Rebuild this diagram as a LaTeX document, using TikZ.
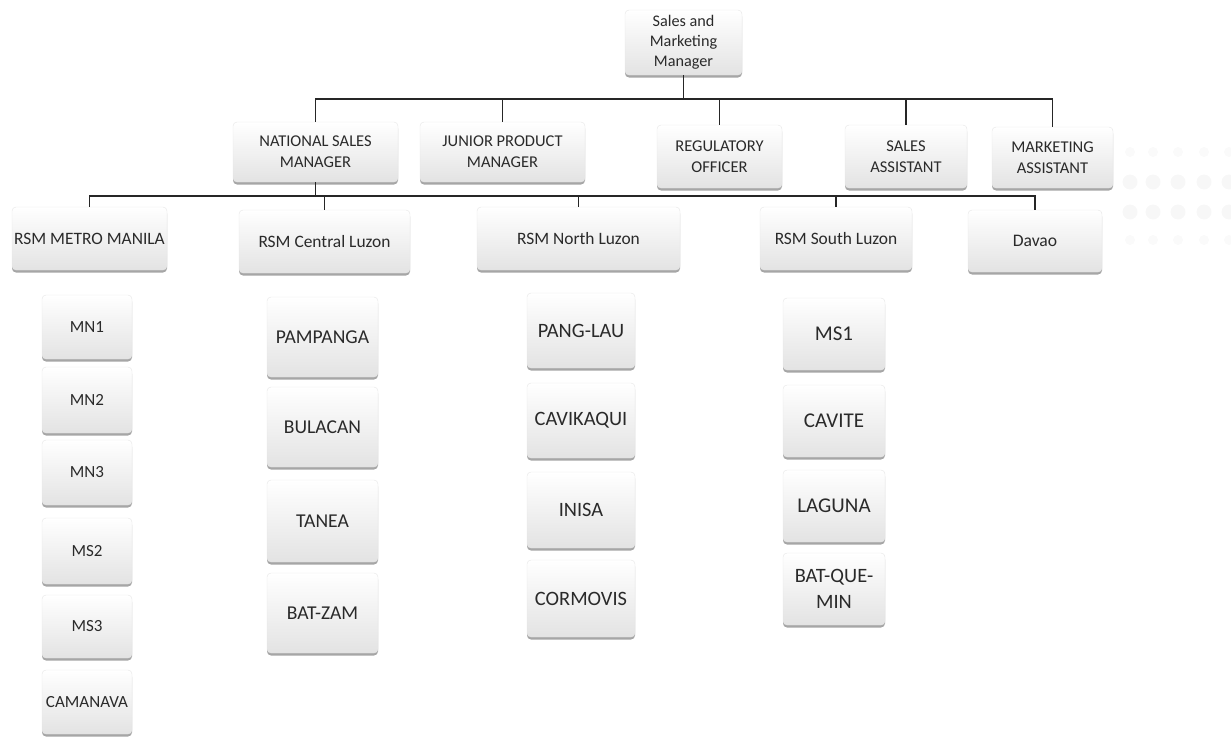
\documentclass[tikz,border=0pt]{standalone}
\usepackage{fontspec}
\setmainfont{Carlito}
\usetikzlibrary{shadows}
\definecolor{txt}{HTML}{2A2A2A}
\tikzset{
  box/.style={rectangle, rounded corners=4pt, top color=white, bottom color=gray!22,
    draw=gray!20, line width=0.4pt, text=txt, align=center, inner sep=2pt,
    drop shadow={shadow xshift=0pt, shadow yshift=-2.5pt, fill=black, opacity=0.35}},
  sz/.style 2 args={font=\fontsize{#1}{#2}\selectfont},
  conn/.style={draw=black!85, line width=1.5pt}
}
\begin{document}
\begin{tikzpicture}[x=1pt,y=-1pt]
\useasboundingbox (0,0) rectangle (1231,736);
% decorative dots
\foreach \xx in {1130,1153,1178,1204,1229}{
  \fill[gray!4] (\xx,152) circle (5);
  \fill[gray!6] (\xx,182) circle (7.5);
  \fill[gray!6] (\xx,212) circle (7.5);
  \fill[gray!4] (\xx,240) circle (5);
}
% level 1
\node[box, sz={16.2}{20}, minimum width=117, minimum height=65] (smm) at (683.5,42.5) {Sales and\\Marketing\\Manager};
% level 2
\node[box, sz={16.5}{21}, minimum width=165, minimum height=60] (nsm) at (315.5,152) {NATIONAL SALES\\MANAGER};
\node[box, sz={16.5}{21}, minimum width=165, minimum height=60] (jpm) at (502.5,152) {JUNIOR PRODUCT\\MANAGER};
\node[box, sz={16.5}{21}, minimum width=125, minimum height=63] (reg) at (719.5,156.5) {REGULATORY\\OFFICER};
\node[box, sz={16.5}{21}, minimum width=122, minimum height=63] (sa) at (906,156.5) {SALES\\ASSISTANT};
\node[box, sz={16.5}{21}, minimum width=121, minimum height=61] (ma) at (1052.5,157.5) {MARKETING\\ASSISTANT};
% level 3
\node[box, sz={17.4}{20}, minimum width=155, minimum height=63] (mm) at (89.5,238.5) {RSM METRO MANILA};
\node[box, sz={17.4}{20}, minimum width=171, minimum height=63] (cl) at (324.5,241.5) {RSM Central Luzon};
\node[box, sz={17.4}{20}, minimum width=203, minimum height=63] (nl) at (578.5,238.5) {RSM North Luzon};
\node[box, sz={17.4}{20}, minimum width=152, minimum height=63] (sl) at (836,238.5) {RSM South Luzon};
\node[box, sz={17.6}{20}, minimum width=134, minimum height=62] (dv) at (1035,241) {Davao};
% columns
\tikzset{mmb/.style={box, sz={17}{20}, minimum width=90}}
\node[mmb, minimum height=64] (mn1) at (87,327) {MN1};
\node[mmb, minimum height=66] (mn2) at (87,400) {MN2};
\node[mmb, minimum height=65] (mn3) at (87,472.5) {MN3};
\node[mmb, minimum height=66] (ms2) at (87,551) {MS2};
\node[mmb, minimum height=63] (ms3) at (87,626.5) {MS3};
\node[mmb, minimum height=64] (cam) at (87,702) {CAMANAVA};
\tikzset{clb/.style={box, sz={19.6}{23}, minimum width=111, minimum height=80}}
\node[clb] (pam) at (322.5,337) {PAMPANGA};
\node[clb] (bul) at (322.5,427) {BULACAN};
\node[clb, minimum height=82] (tan) at (322.5,521) {TANEA};
\node[clb] (bz) at (322.5,613) {BAT-ZAM};
\tikzset{nlb/.style={box, sz={20.4}{24}, minimum width=108, minimum height=75}}
\node[nlb] (pl) at (581,330.5) {PANG-LAU};
\node[nlb] (cav) at (581,420.5) {CAVIKAQUI};
\node[nlb, minimum height=76] (ini) at (581,510) {INISA};
\node[nlb, minimum height=77] (cor) at (581,598.5) {CORMOVIS};
\tikzset{slb/.style={box, sz={21}{26}, minimum width=102, minimum height=72}}
\node[slb] (ms1) at (834,334) {MS1};
\node[slb] (cvt) at (834,421) {CAVITE};
\node[slb] (lag) at (834,506) {LAGUNA};
\node[slb, sz={20.4}{26}] (bqm) at (834,589) {BAT-QUE-\\MIN};
% connectors
\coordinate (b1) at (683.5,99);
\coordinate (b2) at (315.5,196);
\draw[conn] (smm.south) -- (b1);
\foreach \n in {nsm,jpm,reg,sa,ma}{\draw[conn] (\n.north) |- (b1);}
\draw[conn] (nsm.south) -- (b2);
\foreach \n in {mm,cl,nl,sl,dv}{\draw[conn] (\n.north) |- (b2);}
\end{tikzpicture}
\end{document}
